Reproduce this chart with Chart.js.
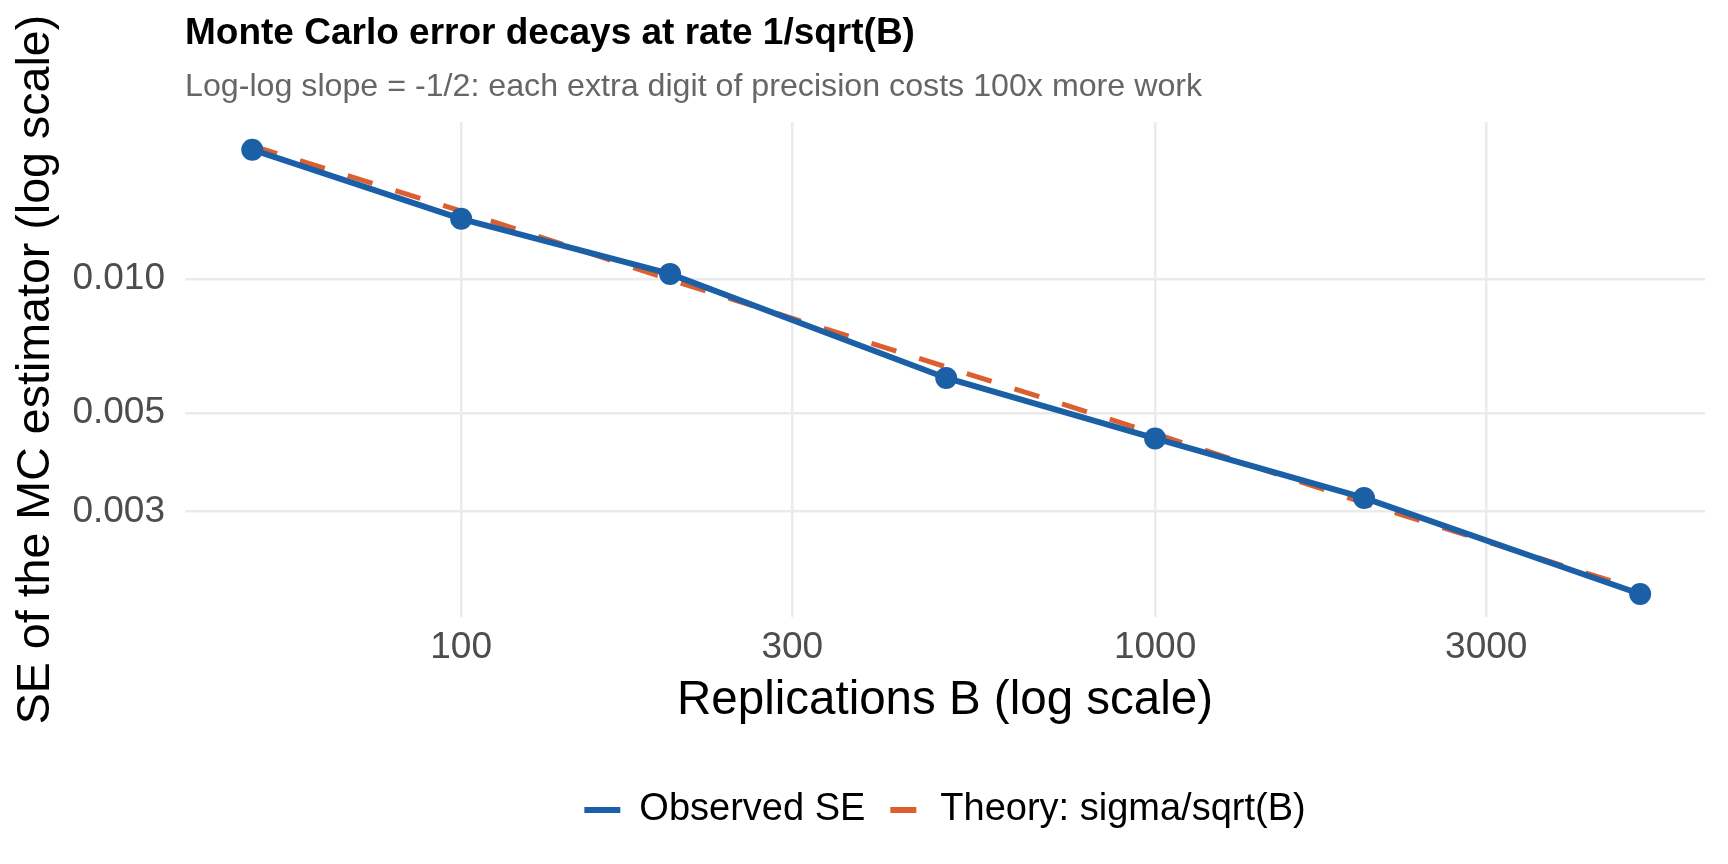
<!DOCTYPE html>
<html>
<head>
<meta charset="utf-8">
<title>Monte Carlo error decays at rate 1/sqrt(B)</title>
<script src="https://cdn.jsdelivr.net/npm/chart.js@4.4.1/dist/chart.umd.min.js"></script>
<style>
    html, body { margin: 0; padding: 0; background: #ffffff; }
    #wrap { width: 1728px; height: 864px; }
</style>
</head>
<body>
<div id="wrap"><canvas id="mcErrorChart"></canvas></div>
<script>
// values
let replications = [50, 100, 200, 500, 1000, 2000, 5000];
let observedSE = [0.0195, 0.01364, 0.01026, 0.00599, 0.00438, 0.00322, 0.00196];
let theorySE = [0.0199, 0.0142, 0.00996, 0.00634, 0.00449, 0.00314, 0.00200];

let xTickValues = [100, 300, 1000, 3000];
let xTickLabels = ['100', '300', '1000', '3000'];
let yTickValues = [0.003, 0.005, 0.010];
let yTickLabels = ['0.003', '0.005', '0.010'];

let blue = '#1b60a6';
let orange = '#dc602f';

function toPoints(ys) {
    return replications.map((b, i) => ({ x: b, y: ys[i] }));
}

function tickLabel(values, labels) {
    return function (value) {
        let i = values.findIndex(v => Math.abs(v - value) < v * 1e-6);
        return i >= 0 ? labels[i] : '';
    };
}

Chart.defaults.font.family = "'Liberation Sans', Arial, sans-serif";

let mcErrorChartEl = document.getElementById("mcErrorChart").getContext('2d');
let mcErrorChart = new Chart(mcErrorChartEl, {
    type: 'line',
    data: {
        datasets: [
            {
                label: 'Observed SE',
                data: toPoints(observedSE),
                borderColor: blue,
                backgroundColor: blue,
                borderWidth: 6,
                pointRadius: 11,
                pointBorderWidth: 0,
                pointBackgroundColor: blue,
                tension: 0
            },
            {
                label: 'Theory: sigma/sqrt(B)',
                data: toPoints(theorySE),
                borderColor: orange,
                backgroundColor: orange,
                borderWidth: 5,
                borderDash: [26, 24],
                pointRadius: 0,
                tension: 0
            },
        ]
    },
    options: {
        responsive: true,
        maintainAspectRatio: false,
        devicePixelRatio: 1,
        animation: false,
        layout: {
            padding: { left: 0, right: 23, top: 0, bottom: 25 }
        },
        scales: {
            x: {
                type: 'logarithmic',
                bounds: 'data',
                min: 40,
                max: 6200,
                afterBuildTicks: function (scale) {
                    scale.ticks = xTickValues.map(v => ({ value: v }));
                },
                afterFit: function (scale) {
                    scale.height = 154;
                },
                grid: { color: '#ebebeb', lineWidth: 2.5, drawTicks: false },
                border: { display: false },
                ticks: {
                    autoSkip: false,
                    maxRotation: 0,
                    padding: 9,
                    color: '#4d4d4d',
                    font: { size: 37 },
                    callback: tickLabel(xTickValues, xTickLabels)
                },
                title: {
                    display: true,
                    text: 'Replications B (log scale)',
                    color: '#000000',
                    font: { size: 47.5 },
                    padding: { top: 0, bottom: 42 }
                }
            },
            y: {
                type: 'logarithmic',
                bounds: 'data',
                min: 0.00174,
                max: 0.0225,
                afterBuildTicks: function (scale) {
                    scale.ticks = yTickValues.map(v => ({ value: v }));
                },
                afterFit: function (scale) {
                    scale.width = 185;
                },
                grid: { color: '#ebebeb', lineWidth: 2.5, drawTicks: false },
                border: { display: false },
                ticks: {
                    padding: 20,
                    color: '#4d4d4d',
                    font: { size: 37 },
                    callback: tickLabel(yTickValues, yTickLabels)
                },
                title: {
                    display: true,
                    text: 'SE of the MC estimator (log scale)',
                    color: '#000000',
                    font: { size: 46.6 },
                    padding: { top: 8, bottom: 0 }
                }
            },
        },
        plugins: {
            title: {
                display: true,
                text: 'Monte Carlo error decays at rate 1/sqrt(B)',
                align: 'start',
                fullSize: false,
                color: '#000000',
                font: { size: 37, weight: 'bold' },
                padding: { top: 12, bottom: 0 }
            },
            subtitle: {
                display: true,
                text: 'Log-log slope = -1/2: each extra digit of precision costs 100x more work',
                align: 'start',
                fullSize: false,
                color: '#666666',
                font: { size: 32.2 },
                padding: { top: 11, bottom: 16 }
            },
            legend: {
                position: 'bottom',
                fullSize: false,
                labels: {
                    usePointStyle: true,
                    pointStyleWidth: 36,
                    padding: 20,
                    color: '#000000',
                    font: { size: 38 },
                    generateLabels: function (chart) {
                        let items = Chart.defaults.plugins.legend.labels.generateLabels(chart);
                        items.forEach(item => {
                            let ds = chart.data.datasets[item.datasetIndex];
                            item.pointStyle = 'line';
                            item.lineWidth = 6;
                            item.strokeStyle = ds.borderColor;
                            if (ds.borderDash) {
                                item.lineDash = ds.borderDash;
                                item.lineDashOffset = -5;
                            }
                        });
                        return items;
                    }
                }
            },
            tooltip: { enabled: false },
        },
    }
});
</script>
</body>
</html>
